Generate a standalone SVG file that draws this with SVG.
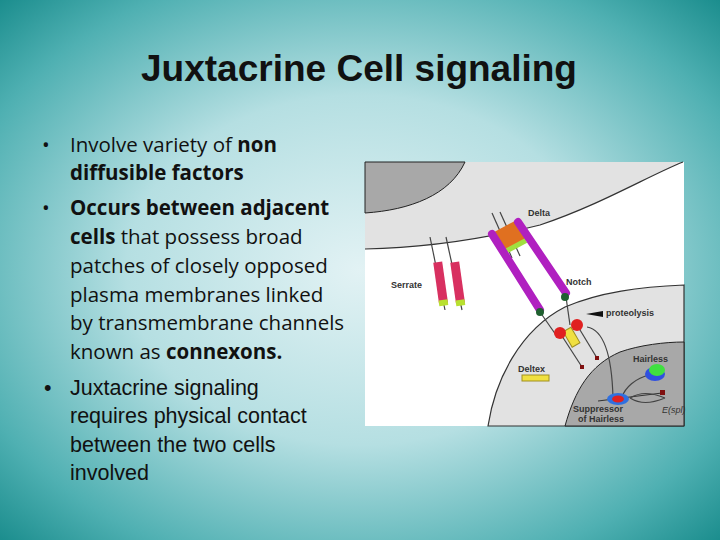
<svg xmlns="http://www.w3.org/2000/svg" width="720" height="540" viewBox="0 0 720 540">
<defs>
<radialGradient id="bg" cx="50%" cy="50%" r="72%">
<stop offset="0" stop-color="#e2f2f4"/><stop offset="0.45" stop-color="#b5dfe2"/><stop offset="0.8" stop-color="#4fb0b2"/><stop offset="1" stop-color="#168a8a"/>
</radialGradient>
<style>
.t{font-family:"Open Sans","Liberation Sans",sans-serif;font-size:20.5px;fill:#111}
.a{font-family:"Liberation Sans",sans-serif;font-size:21.5px;fill:#111}
.l{font-family:"Liberation Sans",sans-serif;font-size:9px;font-weight:bold;fill:#333}
.m{stroke:#333;stroke-width:1.2;fill:none}
.st{stroke:#444;stroke-width:1.2}
</style>
</defs>
<rect width="720" height="540" fill="url(#bg)"/>
<text x="359" y="81" text-anchor="middle" font-family="Liberation Sans, sans-serif" font-size="37" font-weight="bold" fill="#111">Juxtacrine Cell signaling</text>
<g id="bullets">
<text class="t" x="42" y="152" font-size="24">•</text>
<text class="t" x="70" y="152">Involve variety of <tspan font-weight="bold">non</tspan></text>
<text class="t" x="70" y="180" font-weight="bold">diffusible factors</text>
<text class="t" x="42" y="215" font-size="24">•</text>
<text class="t" x="70" y="215"><tspan font-weight="bold">Occurs between adjacent</tspan></text>
<text class="t" x="70" y="244"><tspan font-weight="bold">cells</tspan> that possess broad</text>
<text class="t" x="70" y="273">patches of closely opposed</text>
<text class="t" x="70" y="302">plasma membranes linked</text>
<text class="t" x="70" y="330">by transmembrane channels</text>
<text class="t" x="70" y="359">known as <tspan font-weight="bold">connexons.</tspan></text>
<text class="a" x="44" y="395">•</text>
<text class="a" x="70" y="395">Juxtacrine signaling</text>
<text class="a" x="70" y="423">requires physical contact</text>
<text class="a" x="70" y="452">between the two cells</text>
<text class="a" x="70" y="480">involved</text>
</g>
<g id="figure">
<rect x="365" y="162" width="319" height="264" fill="#fff"/>
<path d="M365,162 L683,162 C650,175 600,205 540,225 C480,240 420,248 365,249 Z" fill="#e2e2e2"/>
<path d="M365,249 C420,248 480,240 540,225 C600,205 650,175 683,162" class="m"/>
<path d="M365,162 L465,162 C450,195 410,210 365,213 Z" fill="#a8a8a8" stroke="#222" stroke-width="1"/>
<path d="M488,426 C495,380 520,330 565,307 C600,292 640,287 684,285 L684,426 Z" fill="#e2e2e2" stroke="#333" stroke-width="1.2"/>
<path d="M565,426 C575,390 590,365 620,352 C640,345 665,342 684,342 L684,426 Z" fill="#a8a8a8" stroke="#222" stroke-width="1"/>
<line x1="430" y1="237" x2="445" y2="310" class="st"/>
<line x1="446" y1="237" x2="462" y2="310" class="st"/>
<g transform="rotate(-8 440 282)"><rect x="436" y="262" width="9" height="42" fill="#d83060"/><rect x="436" y="300" width="9" height="6" fill="#b8e030"/></g>
<g transform="rotate(-8 457 282)"><rect x="453" y="262" width="9" height="42" fill="#d83060"/><rect x="453" y="300" width="9" height="6" fill="#b8e030"/></g>
<line x1="492" y1="213" x2="512" y2="258" class="st"/><line x1="500" y1="212" x2="520" y2="256" class="st"/>
<g transform="rotate(-28 510 236)"><rect x="498" y="225" width="24" height="22" fill="#e07020"/><rect x="498" y="245" width="24" height="5" fill="#a0e040"/></g>
<line x1="492" y1="234" x2="540" y2="310" stroke="#b020c0" stroke-width="8" stroke-linecap="round"/>
<line x1="518" y1="222" x2="566" y2="293" stroke="#b020c0" stroke-width="8" stroke-linecap="round"/>
<line x1="540" y1="312" x2="556" y2="335" class="st"/><line x1="566" y1="297" x2="570" y2="325" class="st"/>
<circle cx="540" cy="312" r="4" fill="#206030"/><circle cx="565" cy="297" r="4" fill="#206030"/>
<line x1="560" y1="333" x2="582" y2="367" class="st"/><line x1="577" y1="325" x2="597" y2="358" class="st"/>
<rect x="567" y="328" width="9" height="18" fill="#f0e040" stroke="#a09020" transform="rotate(-30 572 337)"/>
<circle cx="560" cy="333" r="6" fill="#e02020"/><circle cx="577" cy="325" r="6" fill="#e02020"/>
<rect x="580" y="365" width="4" height="4" fill="#801010"/><rect x="595" y="356" width="4" height="4" fill="#801010"/>
<polygon points="586,314 603,311 603,317" fill="#111"/>
<path d="M587,327 C605,330 612,360 613,398" class="st" fill="none"/>
<path d="M650,375 C635,378 625,388 622,397" class="st" fill="none"/>
<rect x="522" y="375" width="27" height="6" fill="#f0e040" stroke="#a09020"/>
<ellipse cx="655" cy="374" rx="10" ry="7" fill="#3050e0"/><ellipse cx="657" cy="370" rx="8" ry="6" fill="#40e040"/>
<line x1="598" y1="401" x2="662" y2="393" stroke="#333" stroke-width="1.2"/>
<path d="M630,398 C640,392 650,392 665,398 M630,398 C640,404 650,404 665,398" class="st" fill="none"/>
<rect x="660" y="390" width="5" height="5" fill="#801010"/>
<ellipse cx="618" cy="399" rx="11" ry="6" fill="#3070e0"/><ellipse cx="618" cy="399" rx="6" ry="3.5" fill="#e02020"/>
<text class="l" x="528" y="216">Delta</text>
<text class="l" x="391" y="288">Serrate</text>
<text class="l" x="566" y="285">Notch</text>
<text class="l" x="606" y="316">proteolysis</text>
<text class="l" x="518" y="372">Deltex</text>
<text class="l" x="633" y="362">Hairless</text>
<text class="l" x="573" y="412">Suppressor</text>
<text class="l" x="578" y="422">of Hairless</text>
<text x="662" y="413" font-family="Liberation Sans, sans-serif" font-size="9" font-style="italic" fill="#333">E(spl)</text>
</g>
</svg>
